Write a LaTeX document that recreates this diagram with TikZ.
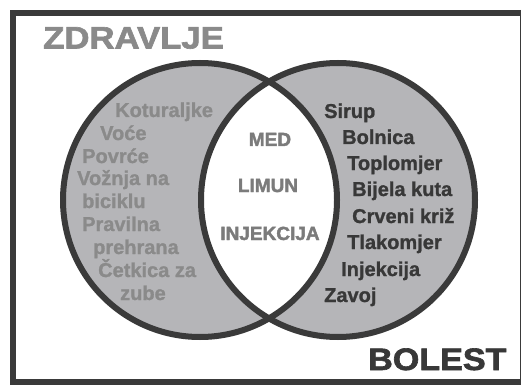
\documentclass[tikz,border=0pt]{standalone}
\usepackage{fontspec}
\setmainfont{Liberation Sans}
\newfontfamily\heavyfont{Liberation Sans Bold}[FakeBold=1.2]
\newfontfamily\titlefont{Liberation Sans Bold}[FakeBold=2]
\usepackage{graphicx}
\usepackage{tikz}
\definecolor{rimgray}{HTML}{3A3A3A}
\definecolor{fillgray}{HTML}{B5B5B8}
\definecolor{healthgray}{HTML}{8A8A8A}
\definecolor{middlegray}{HTML}{7B7B7B}
\definecolor{illdark}{HTML}{383838}

\begin{document}
\begin{tikzpicture}[x=1pt,y=-1pt,
    item/.style={anchor=base west,inner sep=0pt,font=\heavyfont\fontsize{20}{20}\selectfont},
    both/.style={anchor=base,inner sep=0pt,text=middlegray,font=\titlefont\fontsize{19}{19}\selectfont},
    title/.style={anchor=base west,inner sep=0pt,font=\titlefont\fontsize{31}{31}\selectfont}]
    \useasboundingbox (0,0) rectangle (522,385);
    % Frame
    \draw[line width=6pt,rimgray] (520,13) -- (13,13) -- (13,382) -- (520,382);
    \draw[line width=1.5pt,rimgray] (520.5,10) -- (520.5,385);
    % Circles
    \coordinate (health) at (200,200);
    \coordinate (illness) at (338,200);
    \fill[fillgray] (health) circle (137pt);
    \fill[fillgray] (illness) circle (137pt);
    \begin{scope}
        \clip (health) circle (137pt);
        \fill[white] (illness) circle (137pt);
    \end{scope}
    \draw[line width=6pt,rimgray] (health) circle (137pt);
    \draw[line width=6pt,rimgray] (illness) circle (137pt);
    % Titles
    \node[title,text=healthgray] (zdravlje) at (43,48.5) {\scalebox{1.12}[1]{ZDRAVLJE}};
    \node[title,text=illdark] (bolest) at (368,370) {\scalebox{1.1}[1]{BOLEST}};
    % Left set
    \foreach \x/\y/\t [count=\i] in {115/117/Koturaljke, 100/140/Voće, 82/163/Povrće,
        77/185/Vožnja na, 82/208/biciklu, 82/231/Pravilna, 93/254/prehrana,
        98/277/Četkica za, 120/300/zube} {%
        \node[item,text=healthgray] (h\i) at (\x,\y) {\t};
    }
    % Right set
    \foreach \x/\y/\t [count=\i] in {324/118/Sirup, 342/144/Bolnica, 347/170/Toplomjer,
        352/196/Bijela kuta, 352/223/Crveni križ, 347/249/Tlakomjer,
        341/276/Injekcija, 324/302/Zavoj} {%
        \node[item,text=illdark] (b\i) at (\x,\y) {\t};
    }
    % Intersection
    \node[both] (med) at (270,146) {MED};
    \node[both] (limun) at (268,192) {LIMUN};
    \node[both] (injekcija) at (270,240) {INJEKCIJA};
\end{tikzpicture}
\end{document}
